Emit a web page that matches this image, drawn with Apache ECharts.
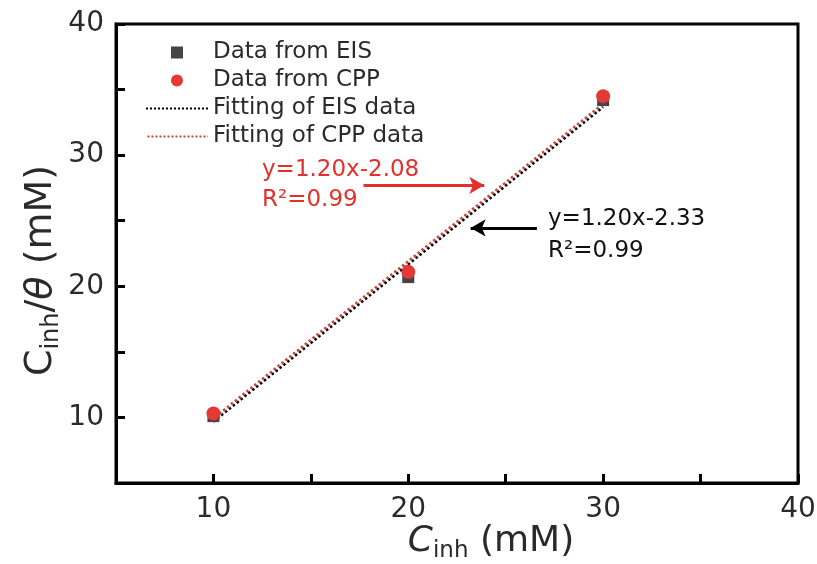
<!DOCTYPE html>
<html>
<head>
<meta charset="utf-8">
<script src="https://cdn.jsdelivr.net/npm/echarts@6/dist/echarts.min.js"></script>
<style>
  html, body { margin: 0; padding: 0; background: #fff; }
  #chart { width: 817px; height: 564px; }
</style>
</head>
<body>
<div id="chart"></div>
<script>
// Inhibitor concentration (mM)
const concentrations = [10, 20, 30];
// C_inh / theta from impedance (EIS) and polarization (CPP) measurements
const eisValues = [10.1, 20.7, 34.2];
const cppValues = [10.3, 21.1, 34.5];
// Linear fits evaluated at the ends of the fitted range
const fitRange = [10, 30];
const eisFitValues = [9.67, 33.67];   // y = 1.20x - 2.33
const cppFitValues = [9.92, 33.92];   // y = 1.20x - 2.08
// Labelled ticks
const xTickLabels = [10, 20, 30, 40];
const yTickLabels = [10, 20, 30, 40];
// Arrow ends (data coordinates) pointing at the fitted lines
const cppArrow = [[17.7, 27.7], [23.9, 27.7]];
const eisArrow = [[26.6, 24.45], [23.2, 24.45]];

const FONT = 'DejaVu Sans';
const INK = '#2a2a2a';
const pairs = (xs, ys) => xs.map((x, i) => [x, ys[i]]);

const chart = echarts.init(document.getElementById('chart'));

const axisCommon = {
  type: 'value',
  min: 5,
  max: 40,
  interval: 5,
  axisLine: { show: true, onZero: false, lineStyle: { color: '#000', width: 3 } },
  axisTick: { show: true, inside: true, length: 9, lineStyle: { color: '#000', width: 3 } },
  splitLine: { show: false },
  nameLocation: 'middle',
  nameMoveOverlap: false
};

// square legend marker that keeps its aspect ratio
const SQUARE = 'path://M0,0L10,0L10,10L0,10Z';

chart.setOption({
  backgroundColor: '#fff',
  animation: false,
  grid: {
    left: 116, right: 19, top: 24, bottom: 81,
    outerBoundsMode: 'none',
    containLabel: false,
    show: true, borderColor: '#000', borderWidth: 3, backgroundColor: 'transparent'
  },
  legend: {
    orient: 'vertical',
    left: 145,
    top: 41,
    padding: 0,
    itemWidth: 62,
    itemHeight: 12,
    itemGap: 5,
    symbolKeepAspect: true,
    textStyle: { fontFamily: FONT, fontSize: 23, color: INK },
    data: [
      { name: 'Data from EIS', icon: SQUARE },
      { name: 'Data from CPP', icon: 'circle' },
      'Fitting of EIS data',
      'Fitting of CPP data'
    ]
  },
  xAxis: Object.assign({}, axisCommon, {
    axisLabel: {
      fontFamily: FONT, fontSize: 28, color: INK, margin: 13,
      formatter: v => xTickLabels.includes(v) ? String(v) : ''
    },
    name: '{c|C}{s|inh}{n| (mM)}',
    nameGap: 37,
    nameTextStyle: {
      fontFamily: FONT, color: INK, padding: [0, 0, 0, 68],
      rich: {
        c: { fontFamily: FONT, fontSize: 36, fontStyle: 'italic', color: INK },
        s: { fontFamily: FONT, fontSize: 23, color: INK, verticalAlign: 'bottom', padding: [20, 0, 0, 0] },
        n: { fontFamily: FONT, fontSize: 36, color: INK }
      }
    }
  }),
  yAxis: Object.assign({}, axisCommon, {
    axisLabel: {
      fontFamily: FONT, fontSize: 28, color: INK, margin: 12,
      formatter: v => yTickLabels.includes(v) ? String(v) : ''
    },
    name: '{c|C}{s|inh}{n|/}{t|θ}{n| (mM)}',
    nameGap: 52,
    nameRotate: 90,
    nameTextStyle: {
      fontFamily: FONT, color: INK, padding: [0, 34, 0, 0],
      rich: {
        c: { fontFamily: FONT, fontSize: 38, color: INK },
        s: { fontFamily: FONT, fontSize: 24, color: INK, verticalAlign: 'bottom', padding: [21, 0, 0, 0] },
        n: { fontFamily: FONT, fontSize: 38, color: INK },
        t: { fontFamily: FONT, fontSize: 38, fontStyle: 'italic', color: INK }
      }
    }
  }),
  graphic: [
    {
      type: 'text', left: 262, top: 155, z: 10,
      style: { text: 'y=1.20x-2.08\nR²=0.99', fill: '#e3302b', font: '23px "DejaVu Sans"', lineHeight: 30 }
    },
    {
      type: 'text', left: 548, top: 203, z: 10,
      style: { text: 'y=1.20x-2.33\nR²=0.99', fill: '#111', font: '23px "DejaVu Sans"', lineHeight: 32 }
    }
  ],
  series: [
    {
      name: 'Fitting of EIS data',
      type: 'line',
      data: pairs(fitRange, eisFitValues),
      symbol: 'none',
      itemStyle: { color: 'rgba(0,0,0,0)' },
      lineStyle: { color: '#000', width: 2.5, type: 'dotted' },
      z: 3,
      markLine: {
        silent: true,
        symbol: ['none', 'arrow'],
        symbolSize: [13, 15],
        label: { show: false },
        lineStyle: { color: '#000', width: 3, type: 'solid' },
        data: [[{ coord: eisArrow[0] }, { coord: eisArrow[1] }]]
      }
    },
    {
      name: 'Fitting of CPP data',
      type: 'line',
      data: pairs(fitRange, cppFitValues),
      symbol: 'none',
      itemStyle: { color: 'rgba(0,0,0,0)' },
      lineStyle: { color: '#c8433a', width: 2.5, type: 'dotted', dashOffset: 2.5 },
      z: 3,
      markLine: {
        silent: true,
        symbol: ['none', 'arrow'],
        symbolSize: [13, 15],
        label: { show: false },
        lineStyle: { color: '#e3302b', width: 3, type: 'solid' },
        data: [[{ coord: cppArrow[0] }, { coord: cppArrow[1] }]]
      }
    },
    {
      name: 'Data from EIS',
      type: 'scatter',
      data: pairs(concentrations, eisValues),
      symbol: 'rect',
      symbolSize: 12,
      itemStyle: { color: '#444', opacity: 1 },
      z: 4
    },
    {
      name: 'Data from CPP',
      type: 'scatter',
      data: pairs(concentrations, cppValues),
      symbol: 'circle',
      symbolSize: 14,
      itemStyle: { color: '#e53935', opacity: 1 },
      z: 5
    }
  ]
});
</script>
</body>
</html>
